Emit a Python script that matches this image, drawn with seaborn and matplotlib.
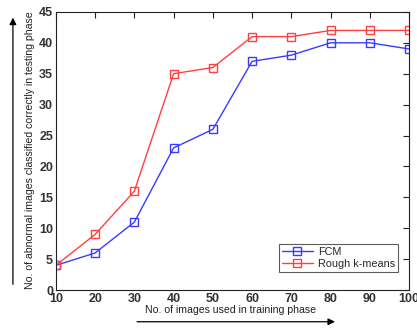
import matplotlib
matplotlib.use("Agg")
import matplotlib.pyplot as plt
import seaborn as sns
import pandas as pd

images = [10, 20, 30, 40, 50, 60, 70, 80, 90, 100]
fcm = [4, 6, 11, 23, 26, 37, 38, 40, 40, 39]
rough = [4, 9, 16, 35, 36, 41, 41, 42, 42, 42]
series_names = ["FCM", "Rough k-means"]
xticks = [10, 20, 30, 40, 50, 60, 70, 80, 90, 100]
yticks = [0, 5, 10, 15, 20, 25, 30, 35, 40, 45]

df = pd.DataFrame({
    "x": images * 2,
    "y": fcm + rough,
    "method": [series_names[0]] * len(images) + [series_names[1]] * len(images),
})

sns.set_theme(style="white")
plt.rcParams['font.family'] = ['Liberation Sans', 'DejaVu Sans']

fig = plt.figure(figsize=(4.17, 3.30), dpi=100)
ax = fig.add_axes([0.134, 0.121, 0.847, 0.843])

palette = {"FCM": "#3a3aff", "Rough k-means": "#ff4040"}
sns.lineplot(data=df, x="x", y="y", hue="method", palette=palette, ax=ax,
             marker="s", markersize=6, markerfacecolor="none",
             markeredgewidth=1.0, linewidth=1.0, legend=False)
for line, name in zip(ax.get_lines(), series_names):
    line.set_markeredgecolor(palette[name])
    line.set_label(name)

ax.set_xlim(10, 100)
ax.set_ylim(0, 45)
ax.set_xticks(xticks)
ax.set_yticks(yticks)
ax.tick_params(direction="in", top=True, right=True, length=4, width=0.8,
               color="#222222", labelsize=9, labelcolor="#333333", pad=2)
for lbl in ax.get_xticklabels() + ax.get_yticklabels():
    lbl.set_fontweight("bold")
for s in ax.spines.values():
    s.set_color("#222222")
    s.set_linewidth(0.8)

ax.set_xlabel("")
ax.set_ylabel("")
fig.text(0.072, 0.545, "No. of abnormal images classified correctly in testing phase",
         rotation=90, ha="center", va="center", fontsize=7.6, color="#222222")
fig.text(0.552, 0.062, "No. of images used in training phase",
         ha="center", va="center", fontsize=7.6, color="#222222")

fig.patches.append(matplotlib.patches.FancyArrowPatch(
    (0.031, 0.13), (0.031, 0.955), transform=fig.transFigure,
    arrowstyle="-|>", mutation_scale=10, color="black", lw=0.9))
fig.patches.append(matplotlib.patches.FancyArrowPatch(
    (0.322, 0.025), (0.81, 0.025), transform=fig.transFigure,
    arrowstyle="-|>", mutation_scale=10, color="black", lw=0.9))

leg = ax.legend(handles=ax.get_lines(), labels=series_names, loc="lower right",
                bbox_to_anchor=(0.985, 0.045), fontsize=7.8, frameon=True,
                fancybox=False, edgecolor="#333333", handlelength=2.8,
                borderpad=0.3, labelspacing=0.15, handletextpad=0.5)
leg.get_frame().set_linewidth(0.8)

fig.savefig("out.png", dpi=100)
